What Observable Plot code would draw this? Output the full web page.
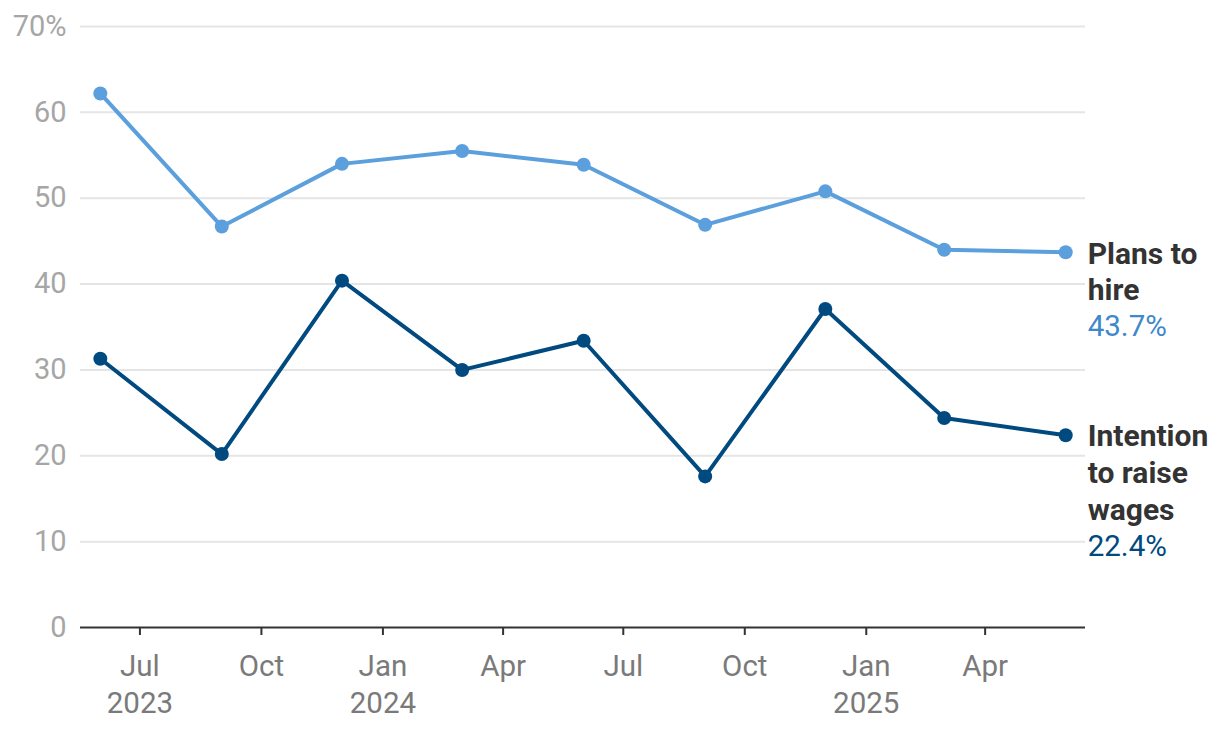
<!DOCTYPE html>
<html>
<head>
<meta charset="utf-8">
<script src="https://cdn.jsdelivr.net/npm/d3@7"></script>
<script src="https://cdn.jsdelivr.net/npm/@observablehq/plot@0.6"></script>
<style>
  html, body { margin: 0; padding: 0; background: #fff; }
  #chart svg { display: block; }
</style>
</head>
<body>
<div id="chart"></div>
<script>
const dates = ["2023-06-01","2023-09-01","2023-12-01","2024-03-01","2024-06-01","2024-09-01","2024-12-01","2025-03-01","2025-06-01"];
const hire = [62.2, 46.7, 54.0, 55.5, 53.9, 46.9, 50.8, 44.0, 43.7];
const wages = [31.3, 20.2, 40.4, 30.0, 33.4, 17.6, 37.1, 24.4, 22.4];
const seriesNames = ["Plans to\nhire", "Intention\nto raise\nwages"];
const seriesLines = [2, 3];
const seriesColors = ["#5b9fdd", "#004a80"];
const valueColors = ["#3f88cb", "#004a80"];
const yTicks = [0, 10, 20, 30, 40, 50, 60, 70];
const xTicks = ["2023-07-01","2023-10-01","2024-01-01","2024-04-01","2024-07-01","2024-10-01","2025-01-01","2025-04-01"];
const monthNames = ["Jan","Feb","Mar","Apr","May","Jun","Jul","Aug","Sep","Oct","Nov","Dec"];

const series = [hire, wages].map((vals, i) => vals.map((v, j) => ({date: new Date(dates[j]), value: v, s: i})));
const lastPts = series.map((s, i) => ({...s[s.length - 1], name: seriesNames[i], lines: seriesLines[i]}));
const xTickDates = xTicks.map(d => new Date(d));

const fmtX = (d, i) => {
  const m = monthNames[d.getUTCMonth()];
  return (i === 0 || d.getUTCMonth() === 0) ? m + "\n" + d.getUTCFullYear() : m;
};

const marks = [
  Plot.gridY(yTicks.filter(t => t > 0), {stroke: "#e5e5e5", strokeOpacity: 1, strokeWidth: 2}),
  Plot.axisY(yTicks, {tickSize: 0, tickPadding: 14, tickFormat: d => d === 70 ? "70%" : String(d), color: "#a6a6a6", fontSize: 29, label: null}),
  Plot.ruleY([0], {stroke: "#333", strokeWidth: 2}),
  Plot.axisX(xTickDates, {tickSize: 8, tickPadding: 14, tickFormat: fmtX, stroke: "#333", strokeWidth: 2, fill: "#7a7a7a", fontSize: 29.5, lineHeight: 1.26, label: null}),
];
series.forEach((s, i) => {
  marks.push(Plot.line(s, {x: "date", y: "value", stroke: seriesColors[i], strokeWidth: 4}));
  marks.push(Plot.dot(s, {x: "date", y: "value", fill: seriesColors[i], r: 7}));
  const lp = lastPts[i];
  marks.push(Plot.text([lp], {x: "date", y: "value", text: "name", dx: 22, dy: -15, textAnchor: "start", lineAnchor: "top", fontWeight: 700, fill: "#333", fontSize: 30, lineHeight: 1.23}));
  marks.push(Plot.text([lp], {x: "date", y: "value", text: d => d.value.toFixed(1) + "%", dx: 22, dy: lp.lines * 37 - 11, textAnchor: "start", lineAnchor: "top", fill: valueColors[i], fontSize: 29.5}));
});

const chart = Plot.plot({
  width: 1220,
  height: 730,
  marginLeft: 80,
  marginRight: 135,
  marginTop: 26,
  marginBottom: 103,
  x: {type: "utc", domain: [new Date("2023-05-17"), new Date("2025-06-16")], label: null},
  y: {domain: [0, 70], label: null},
  style: {fontFamily: "Roboto", fontSize: "28px", background: "#fff"},
  marks
});
document.getElementById("chart").appendChild(chart);
</script>
</body>
</html>
